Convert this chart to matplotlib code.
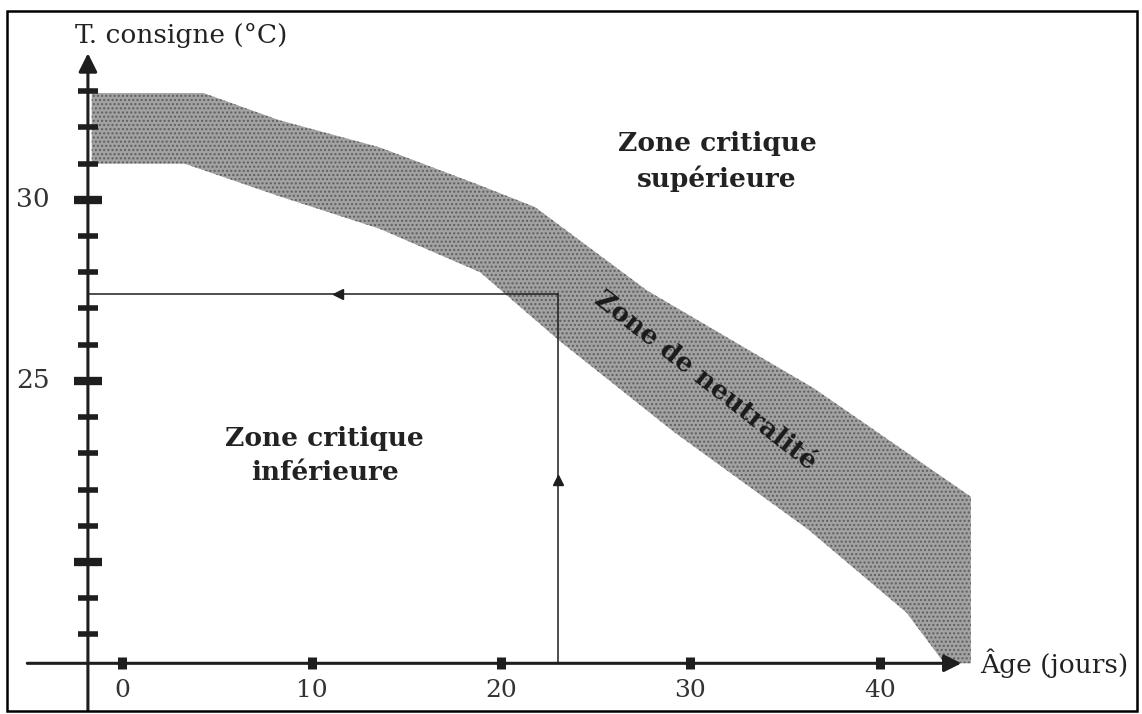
import matplotlib
matplotlib.use("Agg")
import matplotlib.pyplot as plt
from matplotlib.patches import Rectangle

# Zone de neutralite : bords haut et bas de la bande (age en jours, T en degC)
upper_age = [-1.6, 4.3, 8.3, 13.6, 18.9, 21.8, 27.7, 36.5, 44.8]
upper_temp = [32.95, 32.95, 32.2, 31.45, 30.4, 29.8, 27.5, 24.8, 21.8]
lower_age = [-1.6, 3.3, 8.3, 13.6, 18.9, 23.1, 29.1, 36.2, 41.4, 43.4, 44.8]
lower_temp = [31.0, 31.0, 30.1, 29.2, 28.0, 26.1, 23.6, 20.9, 18.6, 17.2, 17.2]

# graduations
x_ticks = [0, 10, 20, 30, 40]
y_ticks_small = [18, 19, 21, 22, 23, 24, 26, 27, 28, 29, 31, 32, 33]
y_ticks_big = [20, 25, 30]
y_labels = {30: "30", 25: "25"}

# lecture : age 23 jours -> consigne 27.4 degC
read_age = 23.0
read_temp = 27.4

# position des axes dessines
axis_x0 = -1.8     # axe vertical
axis_y0 = 17.2     # axe horizontal

ink = "#1e1e1e"

fig = plt.figure(figsize=(11.42, 7.14), dpi=100)
ax = fig.add_axes([0, 0, 1, 1])
ax.set_xlim(-6.44, 53.83)
ax.set_ylim(15.8, 35.52)
ax.axis("off")

# bande grise
band_x = upper_age + lower_age[::-1]
band_y = upper_temp + lower_temp[::-1]
ax.fill(band_x, band_y, facecolor="#a2a2a2", edgecolor="none", zorder=1)
ax.fill(band_x, band_y, facecolor="none", edgecolor="#5e5e5e", hatch="....",
        linewidth=0, zorder=1)

# axes avec fleches
ax.annotate("", xy=(axis_x0, 34.05), xytext=(axis_x0, 15.9),
            arrowprops=dict(arrowstyle="-|>", color=ink, lw=2.2,
                            mutation_scale=28, shrinkA=0, shrinkB=0), zorder=3)
ax.annotate("", xy=(44.3, axis_y0), xytext=(-5.0, axis_y0),
            arrowprops=dict(arrowstyle="-|>", color=ink, lw=2.2,
                            mutation_scale=26, shrinkA=0, shrinkB=0), zorder=3)

# graduations axe y
ax.plot([axis_x0] * len(y_ticks_small), y_ticks_small, linestyle="none",
        marker="_", markersize=14, markeredgewidth=4, color=ink, zorder=4)
ax.plot([axis_x0] * len(y_ticks_big), y_ticks_big, linestyle="none",
        marker="_", markersize=20, markeredgewidth=6, color=ink, zorder=4)
for t, lab in y_labels.items():
    ax.text(-4.7, t, lab, ha="center", va="center", fontsize=19,
            family="DejaVu Serif", color="#333333")

# graduations axe x
ax.plot(x_ticks, [axis_y0] * len(x_ticks), linestyle="none",
        marker="|", markersize=9, markeredgewidth=6.5, color=ink, zorder=4)
for d in x_ticks:
    ax.text(d, 16.45, str(d), ha="center", va="center", fontsize=18,
            family="DejaVu Serif", color="#333333")

# lignes de lecture
ax.plot([read_age, read_age], [axis_y0, read_temp], color=ink, lw=1.1, zorder=2)
ax.plot([read_age, axis_x0], [read_temp, read_temp], color=ink, lw=1.1, zorder=2)
ax.plot([read_age], [22.26], marker="^", markersize=7, color=ink, zorder=3)
ax.plot([11.4], [read_temp], marker="<", markersize=7, color=ink, zorder=3)

# titres des axes
ax.text(-2.5, 34.55, "T. consigne (°C)", ha="left", va="center",
        fontsize=19, family="DejaVu Serif", color="#222222")
ax.text(45.3, axis_y0, "Âge (jours)", ha="left", va="center",
        fontsize=19, family="DejaVu Serif", color="#222222")

# noms des zones
ax.text(31.4, 31.05, "Zone critique\nsupérieure", ha="center", va="center",
        fontsize=19, fontweight="bold", family="DejaVu Serif",
        color="#222222", linespacing=1.45)
ax.text(10.7, 22.95, "Zone critique\ninférieure", ha="center", va="center",
        fontsize=19, fontweight="bold", family="DejaVu Serif",
        color="#222222", linespacing=1.45)
ax.text(30.8, 25.0, "Zone de neutralité", ha="center", va="center",
        rotation=-38, rotation_mode="anchor", fontsize=19, fontweight="bold",
        family="DejaVu Serif", color="#1a1a1a", zorder=5)

# cadre
fig.patches.append(Rectangle((0.006, 0.004), 0.99, 0.98, transform=fig.transFigure,
                             fill=False, edgecolor="black", linewidth=1.8))

fig.savefig("out.png", dpi=100)
